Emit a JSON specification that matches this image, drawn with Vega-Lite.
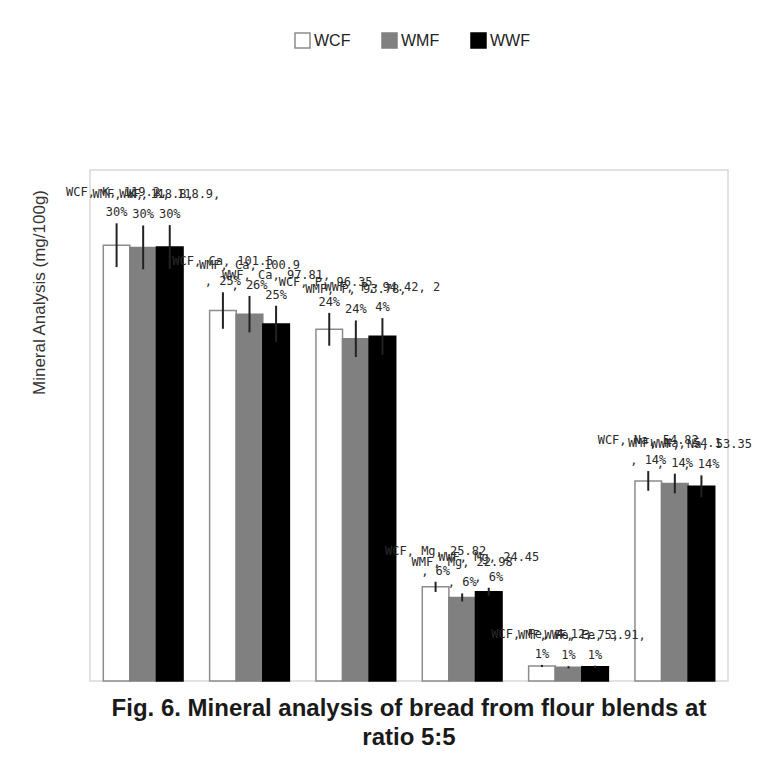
{
  "$schema": "https://vega.github.io/schema/vega-lite/v6.json",
  "width": 638,
  "height": 511,
  "autosize": "none",
  "padding": {"left": 90, "top": 170, "right": 51, "bottom": 80},
  "background": "white",
  "config": {
    "view": {"stroke": "#d9d9d9", "strokeWidth": 1.5},
    "font": "Liberation Sans"
  },
  "title": {
    "text": ["Fig. 6. Mineral analysis of bread from flour blends at", "ratio 5:5"],
    "orient": "bottom",
    "anchor": "middle",
    "fontSize": 24,
    "font": "Liberation Sans",
    "fontWeight": "bold",
    "color": "#1a1a1a",
    "lineHeight": 29,
    "offset": 15
  },
  "data": {
    "values": [
      {"mineral": "K", "flour": "WCF", "value": 119.4, "err": 6, "label": "WCF, K, 119.2,\n30%"},
      {"mineral": "K", "flour": "WMF", "value": 118.8, "err": 6, "label": "WMF, K, 118.8,\n30%"},
      {"mineral": "K", "flour": "WWF", "value": 118.9, "err": 6, "label": "WWF, K, 118.9,\n30%"},
      {"mineral": "Ca", "flour": "WCF", "value": 101.5, "err": 5, "label": "WCF, Ca, 101.5\n, 25%"},
      {"mineral": "Ca", "flour": "WMF", "value": 100.5, "err": 5, "label": "WMF, Ca, 100.9\n, 26%"},
      {"mineral": "Ca", "flour": "WWF", "value": 97.81, "err": 5, "label": "WWF, Ca, 97.81,\n25%"},
      {"mineral": "P", "flour": "WCF", "value": 96.35, "err": 4.5, "label": "WCF, P, 96.35,\n24%"},
      {"mineral": "P", "flour": "WMF", "value": 93.78, "err": 5, "label": "WMF, P, 93.78,\n24%"},
      {"mineral": "P", "flour": "WWF", "value": 94.42, "err": 5, "label": "WWF, P, 94.42, 2\n4%"},
      {"mineral": "Mg", "flour": "WCF", "value": 25.8, "err": 1.4, "label": "WCF, Mg, 25.82\n, 6%"},
      {"mineral": "Mg", "flour": "WMF", "value": 22.9, "err": 1.1, "label": "WMF, Mg, 22.98\n, 6%"},
      {"mineral": "Mg", "flour": "WWF", "value": 24.45, "err": 1.1, "label": "WWF, Mg, 24.45\n, 6%"},
      {"mineral": "Fe", "flour": "WCF", "value": 4.12, "err": 0.3, "label": "WCF, Fe, 4.12,\n1%"},
      {"mineral": "Fe", "flour": "WMF", "value": 3.75, "err": 0.3, "label": "WMF, Fe, 3.75,\n1%"},
      {"mineral": "Fe", "flour": "WWF", "value": 3.91, "err": 0.3, "label": "WWF, Fe, 3.91,\n1%"},
      {"mineral": "Na", "flour": "WCF", "value": 54.82, "err": 2.7, "label": "WCF, Na, 54.82\n, 14%"},
      {"mineral": "Na", "flour": "WMF", "value": 54.1, "err": 2.7, "label": "WMF, Na, 54.1\n, 14%"},
      {"mineral": "Na", "flour": "WWF", "value": 53.35, "err": 3, "label": "WWF, Na, 53.35\n, 14%"}
    ]
  },
  "encoding": {
    "x": {
      "field": "mineral",
      "type": "nominal",
      "sort": ["K", "Ca", "P", "Mg", "Fe", "Na"],
      "scale": {"paddingInner": 0.25, "paddingOuter": 0.125},
      "axis": null
    },
    "xOffset": {
      "field": "flour",
      "type": "nominal",
      "sort": ["WCF", "WMF", "WWF"],
      "scale": {"paddingInner": 0, "paddingOuter": 0}
    }
  },
  "layer": [
    {
      "mark": {"type": "bar", "strokeWidth": 1.5},
      "encoding": {
        "y": {
          "field": "value",
          "type": "quantitative",
          "title": "Mineral Analysis (mg/100g)",
          "scale": {"domain": [0, 140], "nice": false, "zero": true},
          "axis": {
            "labels": false,
            "ticks": false,
            "domain": false,
            "grid": false,
            "titleX": -46,
            "titleY": 122,
            "titleAngle": -90,
            "titleBaseline": "alphabetic",
            "titleFontSize": 17,
            "titleFont": "Liberation Sans",
            "titleFontWeight": "normal",
            "titleColor": "#333333"
          }
        },
        "fill": {
          "field": "flour",
          "type": "nominal",
          "scale": {"domain": ["WCF", "WMF", "WWF"], "range": ["#ffffff", "#808080", "#000000"]},
          "legend": {
            "title": null,
            "orient": "none",
            "direction": "horizontal",
            "legendX": 204,
            "legendY": -138,
            "symbolType": "square",
            "symbolSize": 225,
            "symbolStrokeColor": "#8c8c8c",
            "symbolStrokeWidth": 1.5,
            "labelFont": "Liberation Sans",
            "labelFontSize": 16,
            "labelColor": "#222222",
            "labelOffset": 3,
            "columnPadding": 28
          }
        },
        "stroke": {
          "field": "flour",
          "type": "nominal",
          "scale": {"domain": ["WCF", "WMF", "WWF"], "range": ["#8c8c8c", "#808080", "#000000"]},
          "legend": null
        }
      }
    },
    {
      "mark": {"type": "errorbar", "color": "#222222", "thickness": 2},
      "encoding": {
        "y": {"field": "value", "type": "quantitative", "title": "Mineral Analysis (mg/100g)"},
        "yError": {"field": "err"}
      }
    },
    {
      "transform": [{"calculate": "datum.value + datum.err", "as": "hi"}],
      "mark": {
        "type": "text",
        "font": "DejaVu Sans Mono",
        "fontSize": 12,
        "color": "#2a2a2a",
        "lineBreak": "\n",
        "lineHeight": 20,
        "baseline": "bottom",
        "align": "center",
        "dy": -24
      },
      "encoding": {
        "y": {"field": "hi", "type": "quantitative", "title": "Mineral Analysis (mg/100g)"},
        "text": {"field": "label", "type": "nominal"}
      }
    }
  ]
}
